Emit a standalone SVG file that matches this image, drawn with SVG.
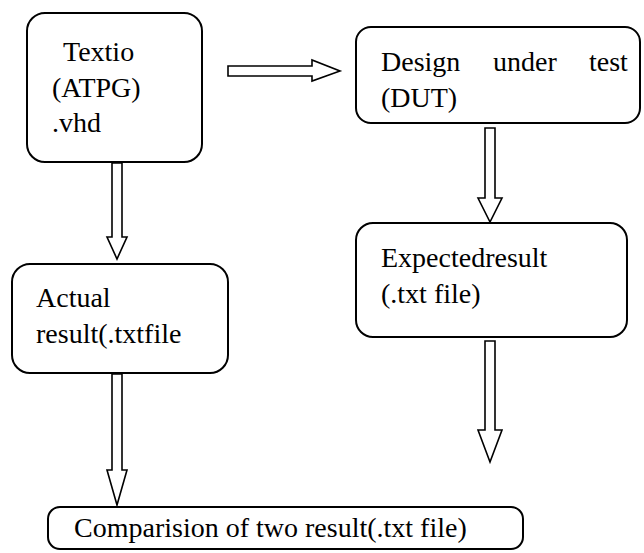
<svg xmlns="http://www.w3.org/2000/svg" width="644" height="553" viewBox="0 0 644 553">
<style>
.box{fill:#fff;stroke:#000;stroke-width:2}
.arr{fill:#fff;stroke:#000;stroke-width:1.6;stroke-linejoin:miter}
.t{font-family:"Liberation Serif","Times New Roman",serif;font-size:28px;fill:#000}
</style>
<rect width="644" height="553" fill="#fff"/>
<g id="connectors">
<polygon class="arr" points="228,66 312,66 312,60 340,71 312,81 312,76 228,76"/>
<polygon class="arr" points="112,163 122,163 122,237 127,237 117,259 107,237 112,237"/>
<polygon class="arr" points="485,128 495,128 495,198 502,198 490,222 478,198 485,198"/>
<polygon class="arr" points="485,341 495,341 495,430 502,430 490,462 478,430 485,430"/>
<polygon class="arr" points="112,374 122,374 122,470 127,470 117,505 107,470 112,470"/>
</g>
<g id="textio">
<rect class="box" x="27" y="13" width="175" height="149" rx="18"/>
<text class="t" x="63" y="61">Textio</text>
<text class="t" x="52" y="97">(ATPG)</text>
<text class="t" x="52" y="132">.vhd</text>
</g>
<g id="dut">
<rect class="box" x="356" y="27" width="284" height="96" rx="15"/>
<text class="t" y="71"><tspan x="381">Design</tspan><tspan x="493">under</tspan><tspan x="589">test</tspan></text>
<text class="t" x="381" y="107">(DUT)</text>
</g>
<g id="actual">
<rect class="box" x="12" y="264" width="216" height="109" rx="18"/>
<text class="t" x="36" y="307">Actual</text>
<text class="t" x="36" y="343">result(.txtfile</text>
</g>
<g id="expected">
<rect class="box" x="356" y="223" width="271" height="114" rx="17"/>
<text class="t" x="381" y="267">Expectedresult</text>
<text class="t" x="381" y="303">(.txt file)</text>
</g>
<g id="compare">
<rect class="box" x="48" y="507" width="475" height="42" rx="12"/>
<text class="t" x="74" y="537">Comparision of two result(.txt file)</text>
</g>
</svg>
